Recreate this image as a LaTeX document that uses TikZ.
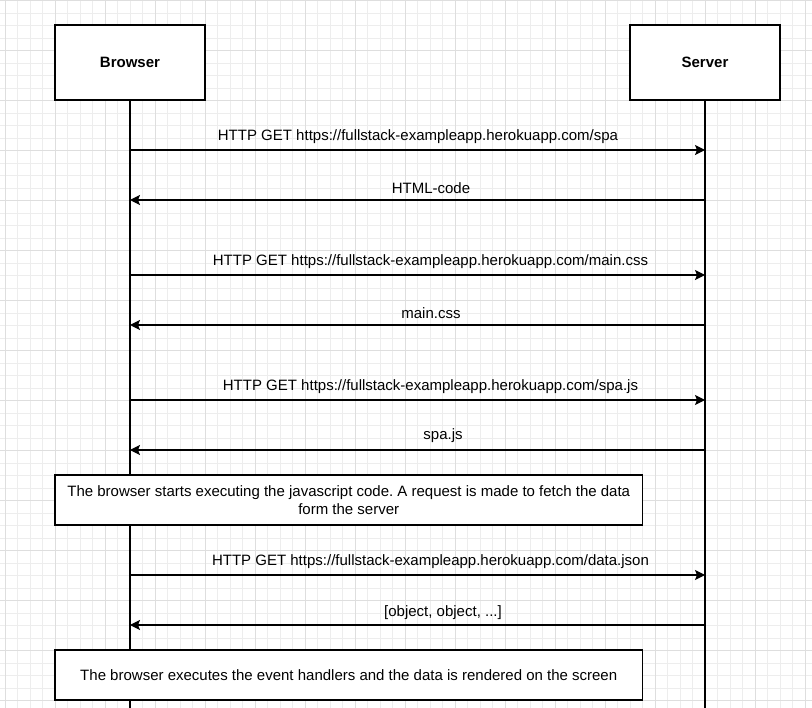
\documentclass[tikz,border=0pt]{standalone}
\usepackage{fontspec}
\setmainfont{Liberation Sans}
\usetikzlibrary{arrows.meta}
\frenchspacing
\begin{document}
\begin{tikzpicture}[x=1pt,y=-1pt,
  minorgrid/.style={draw=black!7,line width=0.8pt},
  majorgrid/.style={draw=black!13,line width=0.8pt},
  actor/.style={draw=black,line width=1.3pt,fill=white,minimum width=150pt,minimum height=75pt,inner sep=0pt,font=\fontsize{15}{17}\selectfont\bfseries},
  note/.style={draw=black,line width=1.3pt,fill=white,minimum width=587.5pt,inner sep=0pt,font=\fontsize{15}{18}\selectfont,align=center},
  life/.style={line width=1.3pt},
  msg/.style={line width=1.3pt,-{Stealth[length=10pt,width=10pt,inset=2pt]}},
  lbl/.style={anchor=base,inner sep=0pt,font=\fontsize{15}{17}\selectfont}]
\useasboundingbox (0,0) rectangle (812,708);
\fill[white] (0,0) rectangle (812,708);
% grid
\foreach \k in {0,...,64}{\draw[minorgrid] ({5.3+12.5*\k},0) -- ({5.3+12.5*\k},708);}
\foreach \k in {0,...,56}{\draw[minorgrid] (0,{0.5+12.5*\k}) -- (812,{0.5+12.5*\k});}
\foreach \k in {0,...,16}{\draw[majorgrid] ({5.3+50*\k},0) -- ({5.3+50*\k},708);}
\foreach \k in {0,...,14}{\draw[majorgrid] (0,{0.5+50*\k}) -- (812,{0.5+50*\k});}
% actors
\node[actor] (browser) at (130,62.5) {Browser};
\node[actor] (server) at (705,62.5) {Server};
\coordinate (bend) at (130,708);
\coordinate (send) at (705,708);
\draw[life] (browser.south) -- (bend);
\draw[life] (server.south) -- (send);
% messages
\foreach \n/\y in {1/150,2/200,3/275,4/325,5/400,6/450,7/575,8/625}{
  \coordinate (b\n) at (130,\y);
  \coordinate (s\n) at (705,\y);
}
\draw[msg] (b1) -- (s1);
\draw[msg] (s2) -- (b2);
\draw[msg] (b3) -- (s3);
\draw[msg] (s4) -- (b4);
\draw[msg] (b5) -- (s5);
\draw[msg] (s6) -- (b6);
\draw[msg] (b7) -- (s7);
\draw[msg] (s8) -- (b8);
\node[lbl] (l1) at (418,140.5) {HTTP GET https://fullstack-exampleapp.herokuapp.com/spa};
\node[lbl] (l2) at (431,193.3) {HTML-code};
\node[lbl] (l3) at (430.5,265.5) {HTTP GET https://fullstack-exampleapp.herokuapp.com/main.css};
\node[lbl] (l4) at (431,318.3) {main.css};
\node[lbl] (l5) at (430.5,390.5) {HTTP GET https://fullstack-exampleapp.herokuapp.com/spa.js};
\node[lbl] (l6) at (443,440) {spa.js};
\node[lbl] (l7) at (430.5,565.5) {HTTP GET https://fullstack-exampleapp.herokuapp.com/data.json};
\node[lbl] (l8) at (443,616.5) {[object, object, ...]};
% notes
\node[note,minimum height=50pt] (n1) at (348.75,500) {The browser starts executing the javascript code. A request is made to fetch the data\\form the server};
\node[note,minimum height=50pt] (n2) at (348.75,675) {The browser executes the event handlers and the data is rendered on the screen};
\end{tikzpicture}
\end{document}
